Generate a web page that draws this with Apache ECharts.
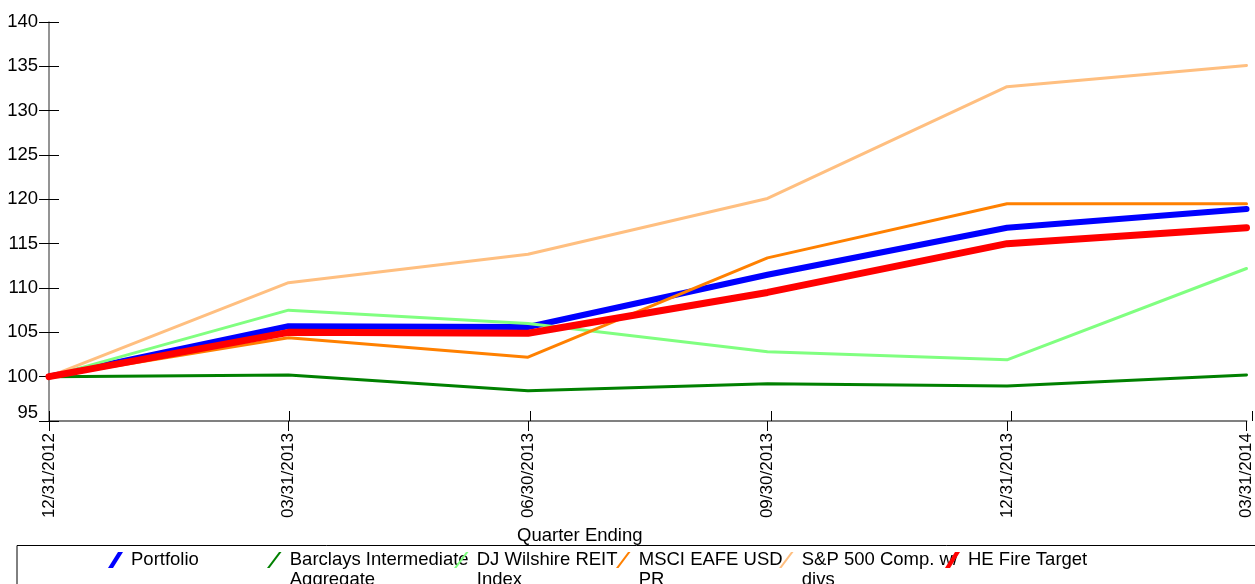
<!DOCTYPE html>
<html>
<head>
<meta charset="utf-8">
<script src="https://cdn.jsdelivr.net/npm/echarts@6/dist/echarts.min.js"></script>
<style>
  html, body { margin: 0; padding: 0; background: #fff; }
  #chart { width: 1255px; height: 584px; }
</style>
</head>
<body>
<div id="chart"></div>
<script>
// Quarter-end dates on the horizontal axis
const quarters = ['12/31/2012', '03/31/2013', '06/30/2013', '09/30/2013', '12/31/2013', '03/31/2014'];

// Growth of 100, one array per series
const portfolio = [100, 105.7, 105.6, 111.5, 116.8, 118.9];
const barclaysAgg = [100, 100.2, 98.4, 99.2, 98.95, 100.2];
const djWilshireReit = [100, 107.5, 106.0, 102.8, 101.9, 112.2];
const msciEafe = [100, 104.4, 102.2, 113.4, 119.5, 119.5];
const sp500 = [100, 110.6, 113.8, 120.1, 132.7, 135.1];
const heFireTarget = [100, 105.0, 104.9, 109.5, 115.0, 116.8];

// Series names and the wrapped text shown for each in the legend
const seriesNames = ['Portfolio', 'Barclays Intermediate Aggregate', 'DJ Wilshire REIT Index',
  'MSCI EAFE USD PR', 'S&P 500 Comp. w/ divs', 'HE Fire Target'];
const legendLabels = ['Portfolio', 'Barclays Intermediate\nAggregate', 'DJ Wilshire REIT\nIndex',
  'MSCI EAFE USD\nPR', 'S&P 500 Comp. w/\ndivs', 'HE Fire Target'];

const FONT = '"Liberation Sans", Arial, sans-serif';
const TEXT_SIZE = 18.5;
const colors = ['#0000ff', '#008000', '#80ff80', '#ff8000', '#ffbf80', '#ff0000'];
const widths = [6, 3, 3, 3, 3, 7];
const values = [portfolio, barclaysAgg, djWilshireReit, msciEafe, sp500, heFireTarget];

// Slanted stroke icons; the two-line variants carry a tiny extra point further down
// so the icon box is tall enough to keep the slash level with the first text line.
const LINE_H = 20;
const slashPath = (thick, boxH) => {
  const body = thick ? 'M10,0 L15,0 L5,16 L0,16 Z' : 'M12,0 L14.5,0 L2.5,16 L0,16 Z';
  return 'path://' + body + (boxH > 16 ? ' M0,' + boxH + ' L0.01,' + boxH + ' L0,' + (boxH - 0.01) + ' Z' : '');
};
const legendLeft = [108, 267, 454, 616, 779, 945];

const gridBox = { left: 49, right: 3, top: 22, bottom: 163 };

const legends = seriesNames.map((name, i) => {
  const twoLine = legendLabels[i].indexOf('\n') >= 0;
  const boxH = twoLine ? 16 + LINE_H : 16;
  return {
    left: legendLeft[i],
    top: 550,
    padding: 0,
    orient: 'horizontal',
    itemWidth: 15,
    itemHeight: boxH,
    selectedMode: false,
    data: [{ name: name, icon: slashPath(widths[i] > 4, boxH) }],
    itemStyle: { borderWidth: 0 },
    formatter: () => legendLabels[i],
    textStyle: {
      fontFamily: FONT, fontSize: TEXT_SIZE, color: '#000', lineHeight: LINE_H,
      padding: [0, 0, 0, 3]
    }
  };
});

const chart = echarts.init(document.getElementById('chart'), null, { renderer: 'canvas' });
chart.setOption({
  animation: false,
  backgroundColor: '#fff',
  textStyle: { fontFamily: FONT },
  grid: [
    Object.assign({}, gridBox),
    Object.assign({}, gridBox)
  ],
  xAxis: [
    {
      type: 'category', gridIndex: 0, data: quarters, boundaryGap: false,
      axisLine: { lineStyle: { color: '#808080', width: 2 } },
      axisTick: { show: true, length: 10, lineStyle: { color: '#000', width: 1 } },
      axisLabel: { rotate: 90, margin: 12, fontSize: 17, color: '#000', fontFamily: FONT, interval: 0 },
      splitLine: { show: false },
      name: 'Quarter Ending', nameLocation: 'middle', nameGap: 103,
      nameTextStyle: { fontSize: TEXT_SIZE, color: '#000', fontFamily: FONT, padding: [0, 136, 0, 0] }
    },
    {
      // inner half of the crossing ticks
      type: 'category', gridIndex: 1, data: quarters, boundaryGap: false,
      axisLine: { show: false },
      axisTick: { show: true, inside: true, length: 10, lineStyle: { color: '#000', width: 1 } },
      axisLabel: { show: false },
      splitLine: { show: false }
    }
  ],
  yAxis: [
    {
      type: 'value', gridIndex: 0, min: 95, max: 140, interval: 5,
      axisLine: { show: true, lineStyle: { color: '#707070', width: 1.5 } },
      axisTick: { show: true, length: 10, lineStyle: { color: '#000', width: 1 } },
      axisLabel: {
        margin: 11, fontSize: TEXT_SIZE, color: '#000', fontFamily: FONT,
        formatter: v => (v === 95 ? '{low|95}' : String(v)),
        rich: { low: { fontSize: TEXT_SIZE, color: '#000', fontFamily: FONT, padding: [0, 0, 16, 0] } }
      },
      splitLine: { show: false }
    },
    {
      type: 'value', gridIndex: 1, min: 95, max: 140, interval: 5,
      axisLine: { show: false },
      axisTick: { show: true, inside: true, length: 10, lineStyle: { color: '#000', width: 1 } },
      axisLabel: { show: false },
      splitLine: { show: false }
    }
  ],
  legend: legends,
  graphic: [{
    type: 'rect',
    shape: { x: 17, y: 545.5, width: 1300, height: 100 },
    style: { fill: 'none', stroke: '#000', lineWidth: 1 },
    silent: true
  }],
  series: seriesNames.map((name, i) => ({
    name: name,
    type: 'line',
    xAxisIndex: 0,
    yAxisIndex: 0,
    data: values[i],
    color: colors[i],
    showSymbol: false,
    symbol: 'none',
    clip: false,
    lineStyle: { color: colors[i], width: widths[i], cap: 'round', join: 'round' },
    emphasis: { disabled: true }
  }))
});
</script>
</body>
</html>
